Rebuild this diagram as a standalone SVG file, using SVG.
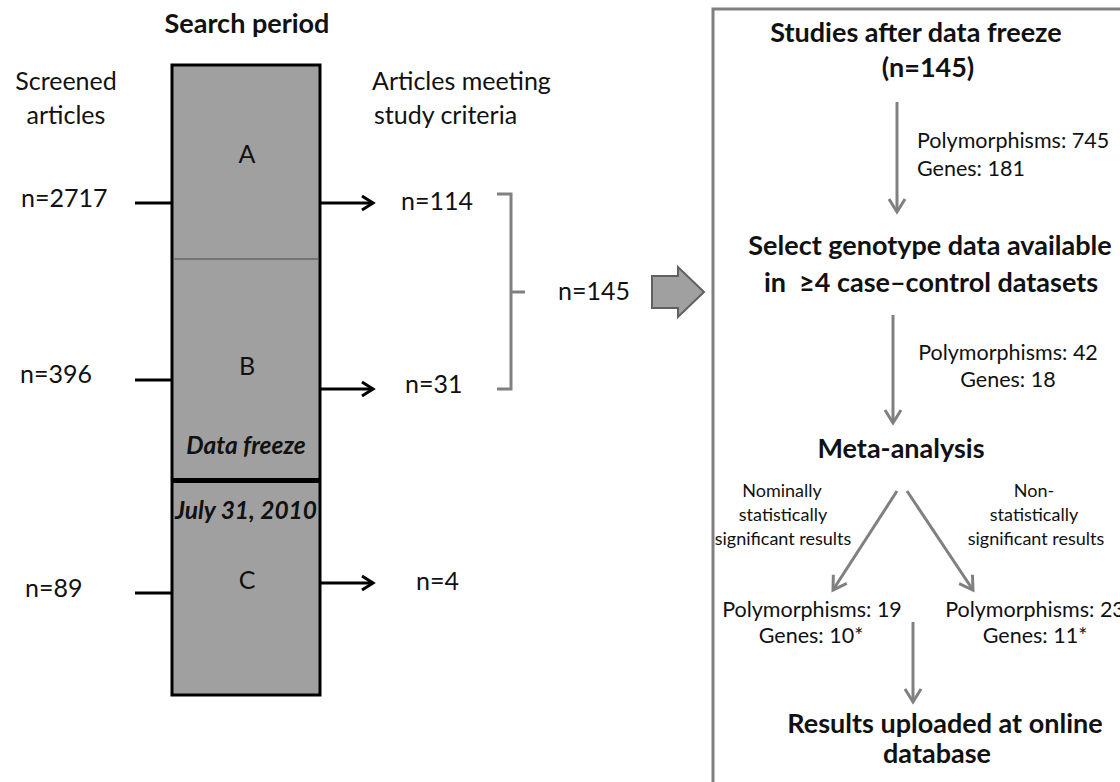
<svg xmlns="http://www.w3.org/2000/svg" width="1120" height="782" viewBox="0 0 1120 782">
<defs>
<style>
text { font-family: Lato, "Liberation Sans", sans-serif; fill: #111; }
.r { font-size: 25px; }
.b { font-size: 27px; font-weight: bold; }
.bi { font-size: 24.5px; font-weight: bold; font-style: italic; }
.s { font-size: 21.5px; }
.xs { font-size: 18px; }
.m { text-anchor: middle; }
.blk { stroke: #000; stroke-width: 3; fill: none; }
.gry { stroke: #808080; stroke-width: 3; fill: none; }
</style>
<marker id="ab" markerUnits="userSpaceOnUse" markerWidth="16" markerHeight="18" refX="13" refY="9" orient="auto">
<path d="M2,2 L13,9 L2,16" fill="none" stroke="#000" stroke-width="3" stroke-linejoin="miter"/>
</marker>
<marker id="ag" markerUnits="userSpaceOnUse" markerWidth="20" markerHeight="20" refX="15" refY="10" orient="auto">
<path d="M2,2 L15,10 L2,18" fill="none" stroke="#808080" stroke-width="3"/>
</marker>
</defs>
<rect width="1120" height="782" fill="#fff"/>

<g id="headers">
<text class="b m" x="247" y="33">Search period</text>
<text class="r m" x="66" y="90">Screened</text>
<text class="r m" x="66" y="124">articles</text>
<text class="r" x="372" y="90">Articles meeting</text>
<text class="r" x="374" y="124">study criteria</text>
</g>

<g id="search-period">
<rect x="172" y="65" width="148" height="630" fill="#a0a0a0" stroke="#000" stroke-width="3"/>
<line x1="173" y1="259" x2="319" y2="259" stroke="#666" stroke-width="1.5"/>
<line x1="172" y1="480.5" x2="320" y2="480.5" stroke="#000" stroke-width="5"/>
<text class="r m" x="247" y="163">A</text>
<text class="r m" x="247" y="375">B</text>
<text class="bi m" x="246" y="454">Data freeze</text>
<text class="bi m" x="246" y="519">July 31, 2010</text>
<text class="r m" x="247" y="589">C</text>
</g>

<g id="screened-counts">
<text class="r" x="21" y="207">n=2717</text>
<text class="r" x="20" y="383">n=396</text>
<text class="r" x="25" y="597">n=89</text>
</g>

<g id="meeting-counts">
<text class="r" x="401" y="210">n=114</text>
<text class="r" x="405" y="393">n=31</text>
<text class="r" x="416" y="590">n=4</text>
<text class="r" x="558" y="300">n=145</text>
</g>

<g id="connectors">
<line class="blk" x1="135" y1="203" x2="172" y2="203"/>
<line class="blk" x1="135" y1="380" x2="172" y2="380"/>
<line class="blk" x1="135" y1="593" x2="172" y2="593"/>
<line class="blk" x1="320" y1="203" x2="373" y2="203" marker-end="url(#ab)"/>
<line class="blk" x1="320" y1="389" x2="373" y2="389" marker-end="url(#ab)"/>
<line class="blk" x1="320" y1="583" x2="373" y2="583" marker-end="url(#ab)"/>
<path class="gry" d="M497,194 H511 V389 H497 M511,292 H525"/>
<path d="M652,276 H678 V267 L704,292 L678,317 V308 H652 Z" fill="#a0a0a0" stroke="#606060" stroke-width="2"/>
<line class="gry" x1="897" y1="102" x2="897" y2="212" marker-end="url(#ag)"/>
<line class="gry" x1="893" y1="315" x2="893" y2="423" marker-end="url(#ag)"/>
<line class="gry" x1="897" y1="491" x2="833" y2="590" marker-end="url(#ag)"/>
<line class="gry" x1="907" y1="491" x2="973" y2="590" marker-end="url(#ag)"/>
<line class="gry" x1="913" y1="622" x2="913" y2="702" marker-end="url(#ag)"/>
</g>

<g id="pipeline-box">
<rect x="713" y="9" width="500" height="900" fill="none" stroke="#808080" stroke-width="3"/>
</g>

<g id="studies">
<text class="b m" x="916" y="42">Studies after data freeze</text>
<text class="b m" x="928" y="77">(n=145)</text>
</g>
<g id="counts-1">
<text class="s" x="917" y="148">Polymorphisms: 745</text>
<text class="s" x="917" y="176">Genes: 181</text>
</g>
<g id="select">
<text class="b m" x="930" y="255">Select genotype data available</text>
<text class="b m" x="931" y="292">in &#160;≥4 case–control datasets</text>
</g>
<g id="counts-2">
<text class="s m" x="1008" y="360">Polymorphisms: 42</text>
<text class="s m" x="1008" y="387">Genes: 18</text>
</g>
<g id="meta">
<text class="b m" x="901" y="458">Meta-analysis</text>
</g>
<g id="label-sig">
<text class="xs m" x="782" y="497">Nominally</text>
<text class="xs m" x="783" y="521">statistically</text>
<text class="xs m" x="783" y="545">significant results</text>
</g>
<g id="label-nonsig">
<text class="xs m" x="1034" y="497">Non-</text>
<text class="xs m" x="1034" y="521">statistically</text>
<text class="xs m" x="1036" y="545">significant results</text>
</g>
<g id="counts-sig">
<text class="s m" x="812" y="617">Polymorphisms: 19</text>
<text class="s m" x="811" y="643">Genes: 10*</text>
</g>
<g id="counts-nonsig">
<text class="s m" x="1035" y="617">Polymorphisms: 23</text>
<text class="s m" x="1035" y="643">Genes: 11*</text>
</g>
<g id="results">
<text class="b m" x="945" y="733">Results uploaded at online</text>
<text class="b m" x="937" y="763">database</text>
</g>
</svg>
